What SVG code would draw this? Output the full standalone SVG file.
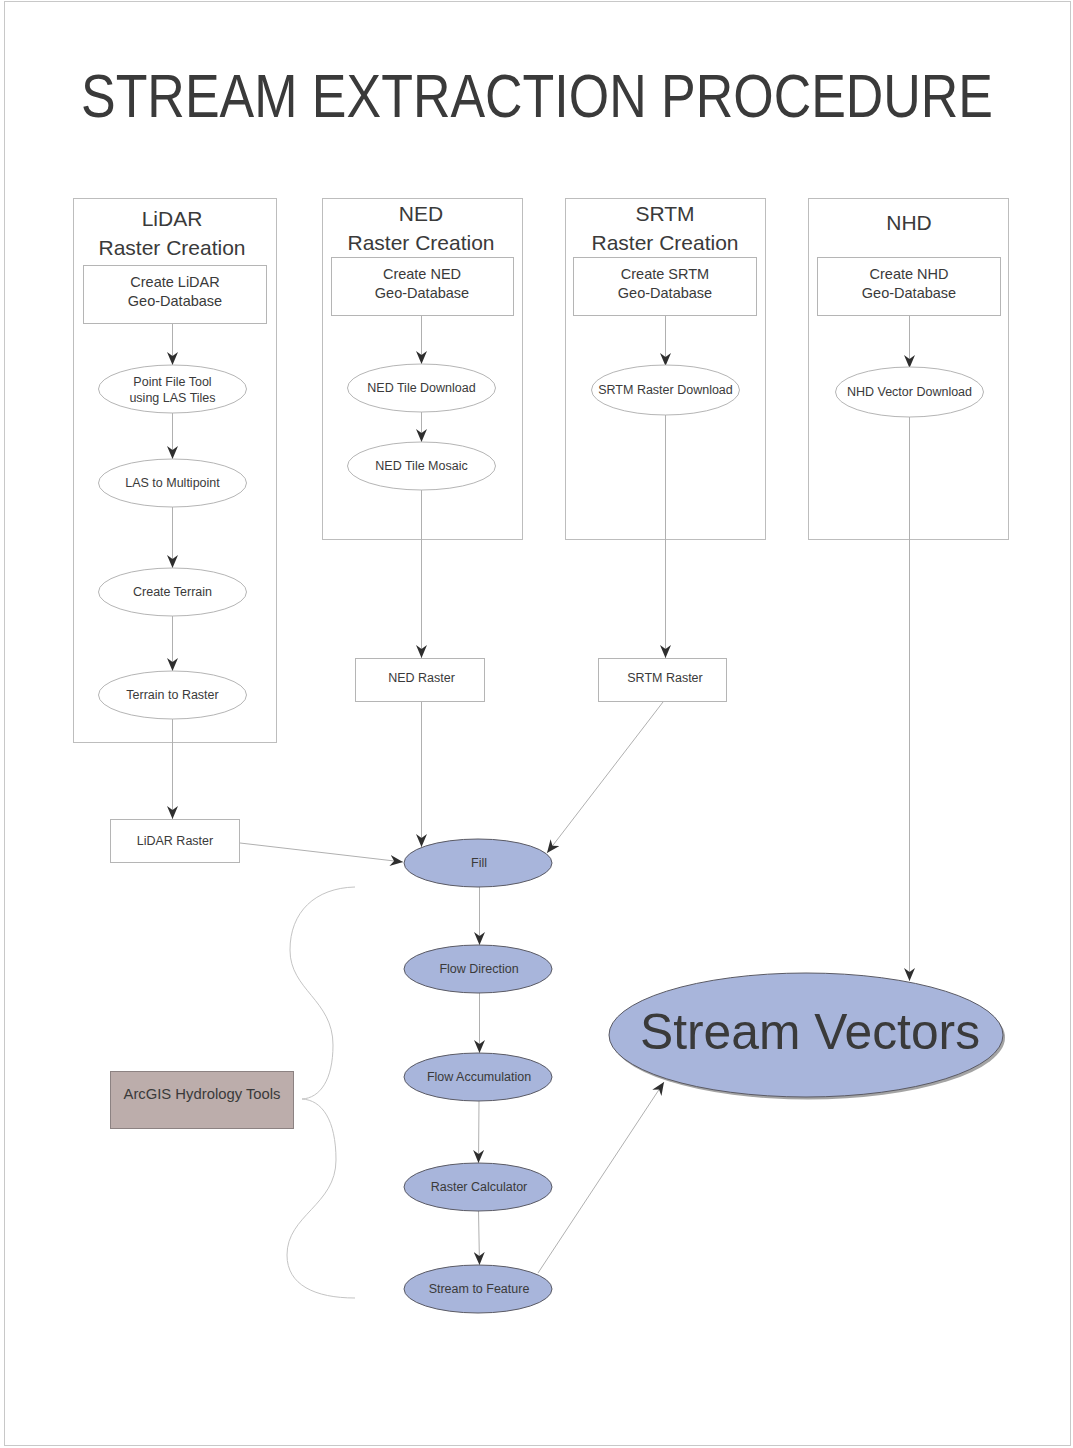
<svg xmlns="http://www.w3.org/2000/svg" width="1073" height="1448" viewBox="0 0 1073 1448">
  <defs>
    <marker id="arrow" viewBox="0 0 13 11" refX="13" refY="5.5" markerWidth="13" markerHeight="11" markerUnits="userSpaceOnUse" orient="auto">
      <path d="M0,0 L13,5.5 L0,11 L4,5.5 z" fill="#2e2e2e"/>
    </marker>
  </defs>
  <style>
    text { font-family: "Liberation Sans", Arial, sans-serif; fill: #3a3a3a; text-anchor: middle; }
    .title { font-size: 62px; }
    .head { font-size: 21px; }
    .sub { font-size: 14.5px; }
    .small { font-size: 12.5px; }
    .frame { fill: #fff; stroke: #bdbdbd; stroke-width: 1; }
    .box { fill: #fff; stroke: #b5b5b5; stroke-width: 1; }
    .oval { fill: #fff; stroke: #b5b5b5; stroke-width: 1; }
    .blue { fill: #a8b5db; stroke: #5a5a64; stroke-width: 1; }
    .link { fill: none; stroke: #b0b0b0; stroke-width: 1; marker-end: url(#arrow); }
    .plain { fill: none; stroke: #c4c4c4; stroke-width: 1; }
  </style>

  <!-- page -->
  <rect x="0" y="0" width="1073" height="1448" fill="#fff"/>
  <rect x="4.5" y="1.5" width="1066" height="1444" fill="none" stroke="#c8c8c8"/>

  <!-- heading, narrowed horizontally to a condensed look -->
  <text class="title" transform="translate(537,117) scale(0.838,1)" x="0" y="0">STREAM EXTRACTION PROCEDURE</text>

  <!-- source panels -->
  <g id="lidar-panel">
    <rect class="frame" x="73.5" y="198.5" width="203" height="544"/>
    <text class="head" x="172" y="226">LiDAR</text>
    <text class="head" x="172" y="255">Raster Creation</text>
  </g>
  <g id="ned-panel">
    <rect class="frame" x="322.5" y="198.5" width="200" height="341"/>
    <text class="head" x="421" y="221">NED</text>
    <text class="head" x="421" y="250">Raster Creation</text>
  </g>
  <g id="srtm-panel">
    <rect class="frame" x="565.5" y="198.5" width="200" height="341"/>
    <text class="head" x="665" y="221">SRTM</text>
    <text class="head" x="665" y="250">Raster Creation</text>
  </g>
  <g id="nhd-panel">
    <rect class="frame" x="808.5" y="198.5" width="200" height="341"/>
    <text class="head" x="909" y="230">NHD</text>
  </g>

  <!-- connectors -->
  <g id="connectors">
    <line class="link" x1="172.5" y1="323" x2="172.5" y2="365"/>
    <line class="link" x1="172.5" y1="413" x2="172.5" y2="459"/>
    <line class="link" x1="172.5" y1="507" x2="172.5" y2="568"/>
    <line class="link" x1="172.5" y1="616" x2="172.5" y2="671"/>
    <line class="link" x1="172.5" y1="719" x2="172.5" y2="819"/>
    <line class="link" x1="421.5" y1="315" x2="421.5" y2="364"/>
    <line class="link" x1="421.5" y1="412" x2="421.5" y2="442"/>
    <line class="link" x1="421.5" y1="490" x2="421.5" y2="658"/>
    <line class="link" x1="421.5" y1="701" x2="421.5" y2="847"/>
    <line class="link" x1="665.5" y1="315" x2="665.5" y2="366"/>
    <line class="link" x1="665.5" y1="415" x2="665.5" y2="658"/>
    <line class="link" x1="663" y1="702" x2="547" y2="853"/>
    <line class="link" x1="909.5" y1="315" x2="909.5" y2="368"/>
    <line class="link" x1="909.5" y1="417" x2="909.5" y2="981"/>
    <line class="link" x1="240" y1="843" x2="403" y2="862"/>
    <line class="link" x1="479.5" y1="887" x2="479.5" y2="945"/>
    <line class="link" x1="479.5" y1="993" x2="479.5" y2="1053"/>
    <line class="link" x1="479" y1="1101" x2="478.5" y2="1163"/>
    <line class="link" x1="478.5" y1="1211" x2="479.5" y2="1265"/>
    <line class="link" x1="538" y1="1273" x2="664" y2="1082"/>
  </g>

  <!-- LiDAR chain -->
  <g id="create-lidar-gdb">
    <rect class="box" x="83.5" y="265.5" width="183" height="58"/>
    <text class="sub" x="175" y="287">Create LiDAR</text>
    <text class="sub" x="175" y="306">Geo-Database</text>
  </g>
  <g id="point-file-tool">
    <ellipse class="oval" cx="172.5" cy="389" rx="74" ry="24"/>
    <text class="small" x="172.5" y="386">Point File Tool</text>
    <text class="small" x="172.5" y="402">using LAS Tiles</text>
  </g>
  <g id="las-to-multipoint">
    <ellipse class="oval" cx="172.5" cy="483" rx="74" ry="24"/>
    <text class="small" x="172.5" y="487">LAS to Multipoint</text>
  </g>
  <g id="create-terrain">
    <ellipse class="oval" cx="172.5" cy="592" rx="74" ry="24"/>
    <text class="small" x="172.5" y="596">Create Terrain</text>
  </g>
  <g id="terrain-to-raster">
    <ellipse class="oval" cx="172.5" cy="695" rx="74" ry="24"/>
    <text class="small" x="172.5" y="699">Terrain to Raster</text>
  </g>
  <g id="lidar-raster">
    <rect class="box" x="110.5" y="819.5" width="129" height="43"/>
    <text class="small" x="175" y="845">LiDAR Raster</text>
  </g>

  <!-- NED chain -->
  <g id="create-ned-gdb">
    <rect class="box" x="331.5" y="257.5" width="182" height="58"/>
    <text class="sub" x="422" y="279">Create NED</text>
    <text class="sub" x="422" y="298">Geo-Database</text>
  </g>
  <g id="ned-tile-download">
    <ellipse class="oval" cx="421.5" cy="388" rx="74" ry="24"/>
    <text class="small" x="421.5" y="392">NED Tile Download</text>
  </g>
  <g id="ned-tile-mosaic">
    <ellipse class="oval" cx="421.5" cy="466" rx="74" ry="24"/>
    <text class="small" x="421.5" y="470">NED Tile Mosaic</text>
  </g>
  <g id="ned-raster">
    <rect class="box" x="355.5" y="658.5" width="129" height="43"/>
    <text class="small" x="421.5" y="682">NED Raster</text>
  </g>

  <!-- SRTM chain -->
  <g id="create-srtm-gdb">
    <rect class="box" x="573.5" y="257.5" width="183" height="58"/>
    <text class="sub" x="665" y="279">Create SRTM</text>
    <text class="sub" x="665" y="298">Geo-Database</text>
  </g>
  <g id="srtm-raster-download">
    <ellipse class="oval" cx="665.5" cy="390" rx="74" ry="25"/>
    <text class="small" x="665.5" y="394">SRTM Raster Download</text>
  </g>
  <g id="srtm-raster">
    <rect class="box" x="598.5" y="658.5" width="128" height="43"/>
    <text class="small" x="665" y="682">SRTM Raster</text>
  </g>

  <!-- NHD chain -->
  <g id="create-nhd-gdb">
    <rect class="box" x="817.5" y="257.5" width="183" height="58"/>
    <text class="sub" x="909" y="279">Create NHD</text>
    <text class="sub" x="909" y="298">Geo-Database</text>
  </g>
  <g id="nhd-vector-download">
    <ellipse class="oval" cx="909.5" cy="392" rx="74" ry="25"/>
    <text class="small" x="909.5" y="396">NHD Vector Download</text>
  </g>

  <!-- hydrology tools -->
  <g id="fill">
    <ellipse class="blue" cx="478" cy="863" rx="74" ry="24"/>
    <text class="small" x="479" y="867">Fill</text>
  </g>
  <g id="flow-direction">
    <ellipse class="blue" cx="478" cy="969" rx="74" ry="24"/>
    <text class="small" x="479" y="973">Flow Direction</text>
  </g>
  <g id="flow-accumulation">
    <ellipse class="blue" cx="478" cy="1077" rx="74" ry="24"/>
    <text class="small" x="479" y="1081">Flow Accumulation</text>
  </g>
  <g id="raster-calculator">
    <ellipse class="blue" cx="478" cy="1187" rx="74" ry="24"/>
    <text class="small" x="479" y="1191">Raster Calculator</text>
  </g>
  <g id="stream-to-feature">
    <ellipse class="blue" cx="478" cy="1289" rx="74" ry="24"/>
    <text class="small" x="479" y="1293">Stream to Feature</text>
  </g>

  <g id="stream-vectors">
    <ellipse cx="808" cy="1037.5" rx="197" ry="62" fill="#5a5a5a" opacity="0.55"/>
    <ellipse class="blue" cx="806" cy="1035" rx="197" ry="62"/>
    <text x="810" y="1049" font-size="50" textLength="340" lengthAdjust="spacingAndGlyphs">Stream Vectors</text>
  </g>

  <!-- group label and brace -->
  <g id="arcgis-hydrology-tools">
    <rect x="110.5" y="1071.5" width="183" height="57" fill="#bcadab" stroke="#8c8282"/>
    <text x="202" y="1099" font-size="15" textLength="157" lengthAdjust="spacingAndGlyphs">ArcGIS Hydrology Tools</text>
  </g>
  <path class="plain" d="M355,887 C315,888 290,912 290,950 C290,990 333,1000 333,1045 C333,1080 320,1098 302,1099 C322,1100 336,1120 336,1160 C336,1205 287,1215 287,1255 C287,1285 315,1298 355,1298"/>
</svg>
